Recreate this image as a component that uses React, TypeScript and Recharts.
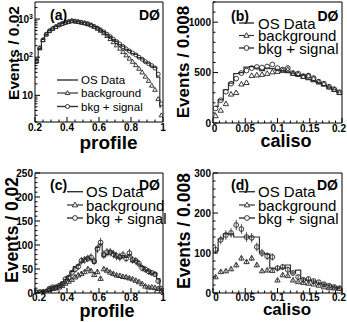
import React from "react";
import { ComposedChart, Line, XAxis, YAxis, ReferenceArea, ErrorBar, Legend } from "recharts";

const FONT = "'Liberation Sans', Arial, Helvetica, sans-serif";
const INK = "#222";

// bin centres
const profileX = [0.21, 0.23, 0.25, 0.27, 0.29, 0.31, 0.33, 0.35, 0.37, 0.39, 0.41, 0.43, 0.45, 0.47, 0.49, 0.51, 0.53, 0.55, 0.57, 0.59, 0.61, 0.63, 0.65, 0.67, 0.69, 0.71, 0.73, 0.75, 0.77, 0.79, 0.81, 0.83, 0.85, 0.87, 0.89, 0.91, 0.93, 0.95, 0.97, 0.99];
const calisoX = [0.004, 0.012, 0.02, 0.028, 0.036, 0.044, 0.052, 0.06, 0.068, 0.076, 0.084, 0.092, 0.1, 0.108, 0.116, 0.124, 0.132, 0.14, 0.148, 0.156, 0.164, 0.172, 0.18, 0.188, 0.196];

// (a) profile, log scale
const aData = [85, 170, 295, 390, 500, 555, 640, 690, 770, 800, 870, 910, 870, 860, 810, 800, 740, 710, 630, 590, 510, 470, 390, 350, 290, 260, 215, 195, 160, 148, 125, 118, 97, 90, 74, 70, 58, 54, 30, 5];
const aBkg = [78, 172, 280, 395, 485, 555, 625, 695, 755, 805, 850, 890, 870, 840, 810, 780, 735, 685, 625, 560, 495, 425, 360, 300, 248, 205, 168, 138, 112, 92, 76, 62, 50, 40, 31, 24, 18, 14, 8, 3];
const aSig = [78, 175, 285, 400, 490, 560, 630, 700, 760, 810, 860, 900, 880, 850, 820, 790, 750, 700, 640, 580, 520, 460, 400, 345, 295, 255, 220, 190, 165, 145, 128, 115, 100, 88, 76, 68, 60, 52, 36, 6];

// (b) caliso
const bData = [165, 230, 330, 395, 490, 500, 555, 560, 545, 520, 545, 540, 525, 520, 500, 495, 470, 475, 430, 410, 400, 370, 355, 330, 300];
const bBkg = [70, 125, 190, 285, 300, 385, 400, 470, 475, 480, 490, 505, 510, 520, 530, 490, 480, 460, 465, 440, 405, 385, 355, 330, 300];
const bSig = [145, 225, 310, 390, 440, 495, 520, 545, 555, 550, 560, 580, 545, 530, 545, 495, 490, 465, 470, 445, 410, 390, 360, 335, 305];

// (c) profile
const cData = [2, 1, 3, 4, 10, 13, 14, 16, 22, 28, 35, 45, 55, 58, 65, 70, 73, 70, 62, 95, 102, 75, 80, 88, 83, 75, 72, 78, 74, 80, 65, 68, 60, 55, 48, 46, 40, 42, 30, 8];
const cBkg = [1, 1, 2, 3, 7, 9, 10, 12, 15, 20, 24, 28, 33, 37, 40, 44, 50, 46, 38, 44, 30, 50, 47, 43, 40, 37, 36, 34, 33, 31, 29, 26, 23, 19, 14, 12, 12, 11, 9, 4];
const cSig = [1, 2, 2, 3, 9, 12, 12, 15, 19, 29, 32, 42, 49, 55, 67, 69, 72, 74, 66, 92, 105, 80, 85, 85, 81, 77, 75, 79, 72, 83, 69, 67, 61, 52, 49, 45, 42, 39, 25, 9];
const cBkgErr = [1, 1, 1, 1, 2, 2, 2, 2, 3, 3, 3, 3, 4, 4, 4, 4, 4, 4, 4, 4, 4, 4, 4, 4, 4, 4, 4, 4, 4, 4, 3, 3, 3, 3, 3, 3, 3, 3, 2, 2];
const cSigErr = [1, 1, 1, 2, 3, 3, 3, 4, 4, 5, 6, 6, 7, 7, 8, 8, 8, 9, 8, 9, 10, 9, 9, 9, 9, 9, 9, 9, 8, 9, 8, 8, 8, 7, 7, 7, 6, 6, 5, 3];

// (d) caliso
const dData = [105, 135, 148, 148, 140, 140, 140, 140, 140, 100, 98, 62, 60, 62, 70, 50, 57, 35, 32, 30, 25, 22, 20, 15, 12];
const dBkg = [40, 53, 55, 60, 70, 87, 78, 87, 70, 55, 57, 56, 32, 45, 43, 32, 28, 26, 24, 22, 19, 15, 13, 12, 11];
const dSig = [108, 133, 145, 150, 170, 160, 140, 138, 115, 100, 92, 90, 62, 65, 58, 50, 40, 33, 35, 30, 27, 22, 18, 15, 12];
const dBkgErr = [4, 5, 5, 5, 6, 7, 6, 7, 6, 5, 5, 5, 4, 4, 4, 4, 3, 3, 3, 3, 3, 3, 3, 2, 2];
const dSigErr = [10, 11, 12, 12, 13, 12, 12, 12, 11, 10, 10, 9, 8, 8, 8, 7, 6, 6, 6, 5, 5, 5, 4, 4, 3];

// axis ticks
const profileTicks = [0.2, 0.25, 0.3, 0.35, 0.4, 0.45, 0.5, 0.55, 0.6, 0.65, 0.7, 0.75, 0.8, 0.85, 0.9, 0.95, 1];
const profileMajors = [0.2, 0.4, 0.6, 0.8, 1];
const calisoTicks = [0, 0.01, 0.02, 0.03, 0.04, 0.05, 0.06, 0.07, 0.08, 0.09, 0.1, 0.11, 0.12, 0.13, 0.14, 0.15, 0.16, 0.17, 0.18, 0.19, 0.2];
const calisoMajors = [0, 0.05, 0.1, 0.15, 0.2];
const aTicks = [2, 3, 4, 5, 6, 7, 8, 9, 10, 20, 30, 40, 50, 60, 70, 80, 90, 100, 200, 300, 400, 500, 600, 700, 800, 900, 1000, 2000];
const aMajors = [10, 100, 1000];
const bTicks = [0, 100, 200, 300, 400, 500, 600, 700, 800, 900, 1000, 1100, 1200];
const bMajors = [0, 500, 1000];
const cTicks = [0, 10, 20, 30, 40, 50, 60, 70, 80, 90, 100, 110, 120, 130, 140, 150, 160, 170, 180, 190, 200, 210, 220, 230, 240, 250];
const cMajors = [0, 50, 100, 150, 200, 250];
const dTicks = [0, 20, 40, 60, 80, 100, 120, 140, 160, 180, 200, 220, 240, 260, 280, 300];
const dMajors = [0, 100, 200, 300];

type Row = { x: number; data: number; bkg: number; sig: number; bkgErr?: number; sigErr?: number };

function makeRows(xs: number[], data: number[], bkg: number[], sig: number[], bkgErr?: number[], sigErr?: number[]): Row[] {
  return xs.map((x, i) => ({ x, data: data[i], bkg: bkg[i], sig: sig[i], bkgErr: bkgErr?.[i], sigErr: sigErr?.[i] }));
}

const isIn = (arr: number[], v: number) => arr.some((m) => Math.abs(m - v) < 1e-9);

const TICK_FONT = 10;
const Y_MARGIN = 2;

function makeXTick(majors: number[], margin: number, firstDx: number, lastDx: number) {
  return function XTick(props: any) {
    const { x, y, payload } = props;
    const v = payload.value;
    const major = isIn(majors, v);
    const ay = y - margin;
    let dx = 0;
    if (Math.abs(v - majors[0]) < 1e-9) dx = firstDx;
    if (Math.abs(v - majors[majors.length - 1]) < 1e-9) dx = lastDx;
    return (
      <g>
        <line x1={x} x2={x} y1={ay} y2={ay - (major ? 5 : 2.5)} stroke="#000" strokeWidth={1} />
        {major && (
          <text x={x + dx} y={y} dy="0.72em" textAnchor="middle" fontSize={TICK_FONT} fontWeight="bold" fontFamily={FONT} fill="#000">
            {String(v)}
          </text>
        )}
      </g>
    );
  };
}

function logLabel(v: number) {
  if (v === 10) return "10";
  const e = Math.round(Math.log10(v));
  return (
    <>
      10<tspan dy={-4} fontSize={7}>{e}</tspan>
    </>
  );
}

function makeYTick(majors: number[], fmt: (v: number) => React.ReactNode) {
  return function YTick(props: any) {
    const { x, y, payload } = props;
    const major = isIn(majors, payload.value);
    const ax = x + Y_MARGIN;
    return (
      <g>
        <line x1={ax} x2={ax + (major ? 5 : 2.5)} y1={y} y2={y} stroke="#000" strokeWidth={1} />
        {major && (
          <text x={x} y={y} dy="0.36em" textAnchor="end" fontSize={TICK_FONT} fontWeight="bold" fontFamily={FONT} fill="#000">
            {fmt(payload.value)}
          </text>
        )}
      </g>
    );
  };
}

function circleDot(r: number) {
  return (p: any) => {
    if (p.cx == null || p.cy == null || Number.isNaN(p.cy)) return <g key={`c${p.index}`} />;
    return <circle key={`c${p.index}`} cx={p.cx} cy={p.cy} r={r} fill="none" stroke={INK} strokeWidth={0.9} />;
  };
}

function triPath(cx: number, cy: number, s: number) {
  return `M${cx},${cy - s} L${cx + s * 0.95},${cy + s * 0.65} L${cx - s * 0.95},${cy + s * 0.65} Z`;
}

function triDot(s: number) {
  return (p: any) => {
    if (p.cx == null || p.cy == null || Number.isNaN(p.cy)) return <g key={`t${p.index}`} />;
    return <path key={`t${p.index}`} d={triPath(p.cx, p.cy, s)} fill="none" stroke={INK} strokeWidth={0.9} />;
  };
}

type Spec = {
  left: number; top: number; width: number; height: number;
  marginTop: number; marginRight: number; yWidth: number; xHeight: number; xMargin: number;
  firstDx: number; lastDx: number;
  rows: Row[]; errors: boolean;
  xDomain: [number, number]; xTicks: number[]; xMajors: number[];
  yDomain: [number, number]; yTicks: number[]; yMajors: number[]; yLog: boolean;
  yTitle: string; yTitleX: number; yTitleY: number; yTitleSize: number;
  xTitle: string; xTitleX: number; xTitleY: number; xTitleSize: number;
  tag: string; tagX: number; tagY: number; doX: number;
  legX1: number; legX2: number; legText: number; legRows: number[]; legFont: number; r: number;
};

function Overlay({ s }: { s: Spec }) {
  const mid = (s.legX1 + s.legX2) / 2;
  const txt = { fontFamily: FONT, fill: "#000" };
  return (
    <svg width={s.width} height={s.height} style={{ display: "block", overflow: "visible", pointerEvents: "none" }}>
      <text x={s.tagX} y={s.tagY} dominantBaseline="central" fontSize={14} fontWeight="bold" {...txt}>{s.tag}</text>
      <text x={s.doX} y={s.tagY} dominantBaseline="central" textAnchor="end" fontSize={14} fontWeight="bold" {...txt}>DØ</text>
      <line x1={s.legX1} x2={s.legX2} y1={s.legRows[0]} y2={s.legRows[0]} stroke="#333" strokeWidth={1.4} />
      <text x={s.legText} y={s.legRows[0]} dominantBaseline="central" fontSize={s.legFont} {...txt}>OS Data</text>
      <line x1={s.legX1} x2={s.legX2} y1={s.legRows[1]} y2={s.legRows[1]} stroke="#333" strokeWidth={1.2} />
      <path d={triPath(mid, s.legRows[1], s.r + 0.4)} fill="#fff" stroke={INK} strokeWidth={0.9} />
      <text x={s.legText} y={s.legRows[1]} dominantBaseline="central" fontSize={s.legFont} {...txt}>background</text>
      <line x1={s.legX1} x2={s.legX2} y1={s.legRows[2]} y2={s.legRows[2]} stroke="#333" strokeWidth={1.4} />
      <circle cx={mid} cy={s.legRows[2]} r={s.r} fill="#fff" stroke={INK} strokeWidth={0.9} />
      <text x={s.legText} y={s.legRows[2]} dominantBaseline="central" fontSize={s.legFont} {...txt}>bkg + signal</text>
      <text transform={`translate(${s.yTitleX},${s.yTitleY}) rotate(-90)`} textAnchor="middle" dominantBaseline="central" fontSize={s.yTitleSize} fontWeight="bold" {...txt}>{s.yTitle}</text>
      <text x={s.xTitleX} y={s.xTitleY} textAnchor="middle" fontSize={s.xTitleSize} fontWeight="bold" {...txt}>{s.xTitle}</text>
    </svg>
  );
}

function Panel({ s }: { s: Spec }) {
  return (
    <div style={{ position: "absolute", left: s.left, top: s.top }}>
      <ComposedChart width={s.width} height={s.height} data={s.rows} margin={{ top: s.marginTop, right: s.marginRight, left: 0, bottom: 0 }}>
        <XAxis type="number" dataKey="x" domain={s.xDomain} ticks={s.xTicks} interval={0} allowDataOverflow
          height={s.xHeight} tickSize={0} tickMargin={s.xMargin} tickLine={false} axisLine={false}
          tick={makeXTick(s.xMajors, s.xMargin, s.firstDx, s.lastDx)} />
        <YAxis type="number" domain={s.yDomain} ticks={s.yTicks} interval={0} allowDataOverflow
          scale={s.yLog ? "log" : "linear"} width={s.yWidth} tickSize={0} tickMargin={Y_MARGIN}
          tickLine={false} axisLine={false} tick={makeYTick(s.yMajors, s.yLog ? logLabel : (v) => String(v))} />
        <ReferenceArea x1={s.xDomain[0]} x2={s.xDomain[1]} y1={s.yDomain[0]} y2={s.yDomain[1]}
          fill="none" stroke="#000" strokeWidth={1} ifOverflow="visible" />
        <Line type="step" dataKey="data" stroke="#333" strokeWidth={1.2} dot={false} activeDot={false} isAnimationActive={false} />
        <Line type="linear" dataKey="bkg" stroke="none" dot={triDot(s.r + 0.4)} activeDot={false} isAnimationActive={false}>
          {s.errors && <ErrorBar dataKey="bkgErr" direction="y" width={0} stroke={INK} strokeWidth={0.8} />}
        </Line>
        <Line type="linear" dataKey="sig" stroke="none" dot={circleDot(s.r)} activeDot={false} isAnimationActive={false}>
          {s.errors && <ErrorBar dataKey="sigErr" direction="y" width={0} stroke={INK} strokeWidth={0.8} />}
        </Line>
        <Legend layout="horizontal" verticalAlign="middle" align="center" content={() => <Overlay s={s} />}
          wrapperStyle={{ left: 0, top: 0, width: s.width, height: s.height, pointerEvents: "none" }} />
      </ComposedChart>
    </div>
  );
}

const specs: Spec[] = [
  {
    left: 0, top: 0, width: 170, height: 160, marginTop: 2, marginRight: 7, yWidth: 35, xHeight: 38, xMargin: 2,
    firstDx: 0, lastDx: 0,
    rows: makeRows(profileX, aData, aBkg, aSig), errors: false,
    xDomain: [0.2, 1], xTicks: profileTicks, xMajors: profileMajors,
    yDomain: [2, 2800], yTicks: aTicks, yMajors: aMajors, yLog: true,
    yTitle: "Events / 0.02", yTitleX: 13, yTitleY: 53, yTitleSize: 15.5,
    xTitle: "profile", xTitleX: 108.5, xTitleY: 149, xTitleSize: 19,
    tag: "(a)", tagX: 50, tagY: 15, doX: 160,
    legX1: 57, legX2: 78, legText: 81, legRows: [80, 93, 106.5], legFont: 11.5, r: 2,
  },
  {
    left: 172, top: 0, width: 175, height: 160, marginTop: 2, marginRight: 5, yWidth: 41, xHeight: 37, xMargin: 2,
    firstDx: 1.5, lastDx: -3,
    rows: makeRows(calisoX, bData, bBkg, bSig), errors: false,
    xDomain: [0, 0.2], xTicks: calisoTicks, xMajors: calisoMajors,
    yDomain: [0, 1200], yTicks: bTicks, yMajors: bMajors, yLog: false,
    yTitle: "Events / 0.008", yTitleX: 11.5, yTitleY: 62, yTitleSize: 17,
    xTitle: "caliso", xTitleX: 114, xTitleY: 147, xTitleSize: 18,
    tag: "(b)", tagX: 59, tagY: 16, doX: 166.5,
    legX1: 67, legX2: 82, legText: 86, legRows: [23, 35.5, 48], legFont: 15, r: 2.4,
  },
  {
    left: 0, top: 160, width: 170, height: 162, marginTop: 13, marginRight: 7, yWidth: 35, xHeight: 29, xMargin: 1,
    firstDx: 4, lastDx: 0,
    rows: makeRows(profileX, cData, cBkg, cSig, cBkgErr, cSigErr), errors: true,
    xDomain: [0.2, 1], xTicks: profileTicks, xMajors: profileMajors,
    yDomain: [0, 250], yTicks: cTicks, yMajors: cMajors, yLog: false,
    yTitle: "Events / 0.02", yTitleX: 12, yTitleY: 70, yTitleSize: 17.5,
    xTitle: "profile", xTitleX: 107, xTitleY: 157, xTitleSize: 18,
    tag: "(c)", tagX: 50, tagY: 25, doX: 160,
    legX1: 67, legX2: 83, legText: 86, legRows: [31.7, 45, 58], legFont: 15, r: 2.4,
  },
  {
    left: 172, top: 160, width: 175, height: 162, marginTop: 13, marginRight: 5, yWidth: 41, xHeight: 29, xMargin: 1,
    firstDx: 3, lastDx: -3,
    rows: makeRows(calisoX, dData, dBkg, dSig, dBkgErr, dSigErr), errors: true,
    xDomain: [0, 0.2], xTicks: calisoTicks, xMajors: calisoMajors,
    yDomain: [0, 300], yTicks: dTicks, yMajors: dMajors, yLog: false,
    yTitle: "Events / 0.008", yTitleX: 11.5, yTitleY: 71, yTitleSize: 17.5,
    xTitle: "caliso", xTitleX: 115, xTitleY: 155, xTitleSize: 17,
    tag: "(d)", tagX: 59, tagY: 25, doX: 166,
    legX1: 67, legX2: 83, legText: 86, legRows: [31.7, 45, 58], legFont: 15, r: 2.4,
  },
];

export default function App() {
  return (
    <div style={{ position: "absolute", left: 0, top: 0, width: 347, height: 322, background: "#fff", overflow: "hidden" }}>
      {specs.map((s, i) => (
        <Panel key={i} s={s} />
      ))}
    </div>
  );
}
